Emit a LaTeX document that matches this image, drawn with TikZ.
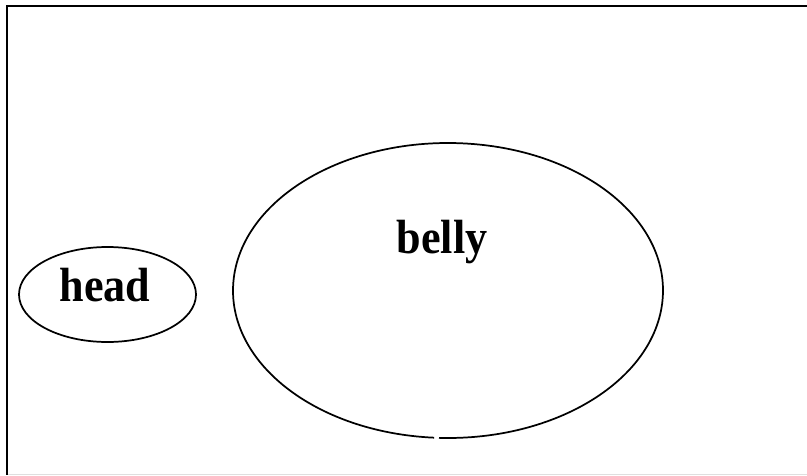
\documentclass[tikz,border=0pt]{standalone}
\usepackage{fontspec}
\usepackage{graphicx}
\setmainfont{Liberation Serif}
\usetikzlibrary{shapes.geometric}
\tikzset{
  outline/.style={line width=1.3pt, black},
  framel/.style={line width=2.2pt, black},
  lbl/.style={font=\fontsize{36}{40}\selectfont\bfseries, inner sep=0pt, anchor=base}
}
\begin{document}
\begin{tikzpicture}[x=0.75pt,y=-0.75pt]
\useasboundingbox (0,0) rectangle (807,475);
\fill[white] (0,0) rectangle (807,475);
% frame
\coordinate (tl) at (7,6);
\coordinate (tr) at (807,6);
\coordinate (bl) at (7,475);
\draw[framel] (tr) -- (tl) -- (bl);
\draw[gray!25, line width=0.6pt] (8,474.3) -- (807,474.3);
% head
\node[ellipse, draw, outline, minimum width=177*0.75pt, minimum height=95*0.75pt] (headshape) at (107.5,294.5) {};
\node[lbl] (head) at (105,301) {\scalebox{0.92}[1]{head}};
% belly
\draw[outline] (448,290.5) ++(93.7:215 and 147.5) arc[start angle=93.7, end angle=452.4, x radius=215, y radius=147.5];
\node[lbl] (belly) at (442,253) {\scalebox{0.92}[1]{belly}};
\end{tikzpicture}
\end{document}
